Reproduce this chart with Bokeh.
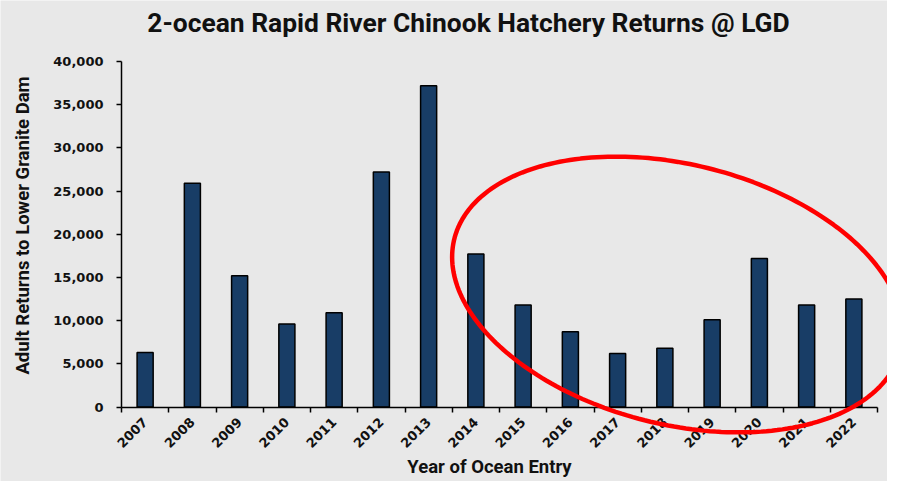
import numpy as np
from bokeh.plotting import figure
from bokeh.models import (ColumnDataSource, FixedTicker, PolyAnnotation, Range1d,
                          NumeralTickFormatter, Label)
from bokeh.embed import file_html
from bokeh.resources import INLINE

# ---- data ----
years = ["2007", "2008", "2009", "2010", "2011", "2012", "2013", "2014",
         "2015", "2016", "2017", "2018", "2019", "2020", "2021", "2022"]
returns = [6300, 25900, 15200, 9600, 10900, 27200, 37200, 17700,
           11800, 8700, 6200, 6800, 10100, 17200, 11800, 12500]
y_ticks = [0, 5000, 10000, 15000, 20000, 25000, 30000, 35000, 40000]

title_text = "2-ocean Rapid River Chinook Hatchery Returns @ LGD"
y_title = "Adult Returns to Lower Granite Dam"
x_title = "Year of Ocean Entry"

# ---- style / layout ----
W, H = 887, 481
BG = "#e8e8e8"
BAR = "#183d66"
TXT = "#111111"
TICK_FONT = "DejaVu Sans"
LABEL_FONT = "Roboto"

# pixel geometry of the plotting area (frame covers the whole canvas; the
# axes are pinned inside it so the highlight ellipse can run over the labels)
X0_PX, PX_PER_CAT = 121.0, 47.25          # pixel of x=0, pixels per category
Y0_PX, PX_PER_Y = 406.5, 345.5 / 40000    # pixel of y=0, pixels per fish


def to_x(px):
    return (px - X0_PX) / PX_PER_CAT


def to_y(py):
    return (Y0_PX - py) / PX_PER_Y


n = len(years)
centers = [i + 0.5 for i in range(n)]
src = ColumnDataSource(dict(x=centers, top=returns, year=years))

p = figure(width=W, height=H, output_backend="svg", toolbar_location=None,
           x_range=Range1d(to_x(0), to_x(W)), y_range=Range1d(to_y(H), to_y(0)),
           min_border=0, min_border_left=0, min_border_right=0,
           min_border_top=0, min_border_bottom=0,
           background_fill_color=BG, border_fill_color=BG,
           outline_line_color=None)
p.title.text = ""

p.vbar(x="x", top="top", bottom=0, width=0.34, source=src, fill_color=BAR,
       line_color="black", line_width=1.5)

p.xgrid.visible = False
p.ygrid.visible = False

# x axis (pinned on y = 0)
xa = p.xaxis[0]
xa.fixed_location = 0
xa.bounds = (0, n)
xa.ticker = FixedTicker(ticks=centers, minor_ticks=list(range(n + 1)))
xa.major_label_overrides = {c: y for c, y in zip(centers, years)}
xa.major_tick_in = 0
xa.major_tick_out = 0
xa.minor_tick_in = 0
xa.minor_tick_out = 5
xa.minor_tick_line_color = "black"
xa.minor_tick_line_width = 1.5
xa.axis_line_color = "black"
xa.axis_line_width = 1.5
xa.major_label_orientation = np.pi / 4
xa.major_label_standoff = 8
xa.major_label_text_font = TICK_FONT
xa.major_label_text_font_style = "bold"
xa.major_label_text_font_size = "13px"
xa.major_label_text_color = TXT

# y axis (pinned on x = 0)
ya = p.yaxis[0]
ya.fixed_location = 0
ya.bounds = (0, y_ticks[-1])
ya.ticker = FixedTicker(ticks=y_ticks)
ya.formatter = NumeralTickFormatter(format="0,0")
ya.major_tick_in = 0
ya.major_tick_out = 5
ya.major_tick_line_color = "black"
ya.major_tick_line_width = 1.5
ya.minor_tick_line_color = None
ya.axis_line_color = "black"
ya.axis_line_width = 1.5
ya.major_label_standoff = 13
ya.major_label_text_font = TICK_FONT
ya.major_label_text_font_style = "bold"
ya.major_label_text_font_size = "13px"
ya.major_label_text_color = TXT

# titles
p.add_layout(Label(x=to_x(468), y=to_y(22), text=title_text,
                   text_font=LABEL_FONT, text_font_size="26.4px",
                   text_font_style="bold", text_color=TXT,
                   text_align="center", text_baseline="alphabetic"))
p.add_layout(Label(x=to_x(22), y=to_y(225), text=y_title, angle=np.pi / 2,
                   text_font=LABEL_FONT, text_font_size="18.5px",
                   text_font_style="bold", text_color=TXT,
                   text_align="center", text_baseline="middle"))
p.add_layout(Label(x=to_x(489), y=to_y(466), text=x_title,
                   text_font=LABEL_FONT, text_font_size="18.5px",
                   text_font_style="bold", text_color=TXT,
                   text_align="center", text_baseline="alphabetic"))

# red highlight ellipse (annotation), built in pixel space then mapped to data
cx_px, cy_px = 677.0, 294.0
a_px, b_px, theta = 230.0, 130.0, np.deg2rad(-14.0)
t = np.linspace(0, 2 * np.pi, 240)
dx = a_px * np.cos(t) * np.cos(theta) - b_px * np.sin(t) * np.sin(theta)
dy = a_px * np.cos(t) * np.sin(theta) + b_px * np.sin(t) * np.cos(theta)
ell = PolyAnnotation(xs=list(to_x(cx_px + dx)), ys=list(to_y(cy_px - dy)),
                     line_color="#ff0000", line_alpha=1.0, line_width=4.5,
                     fill_color=None, fill_alpha=0)
p.add_layout(ell)

open("out.html", "w").write(file_html(p, INLINE))
